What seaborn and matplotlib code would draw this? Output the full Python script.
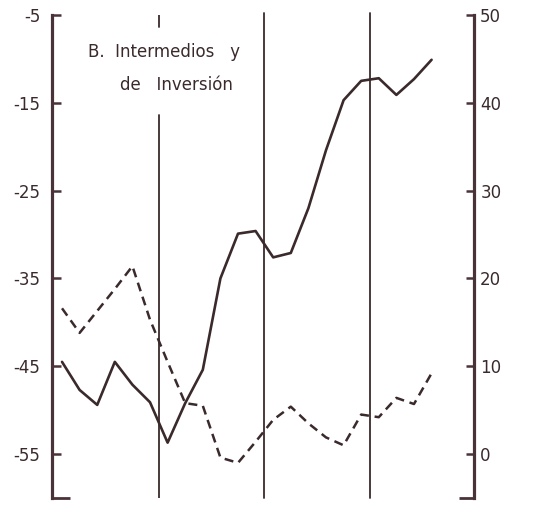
import numpy as np
import pandas as pd
import matplotlib
matplotlib.use("Agg")
import matplotlib.pyplot as plt
from matplotlib.ticker import FixedLocator
import seaborn as sns

# ---- data (bimonthly observations, 22 periods) ----
periods = list(range(22))
solid_vals = [-44.5, -47.7, -49.4, -44.5, -47.1, -49.1, -53.7, -49.2, -45.4, -35.0,
              -29.9, -29.6, -32.6, -32.1, -27.0, -20.4, -14.7, -12.5, -12.2, -14.1,
              -12.3, -10.1]
dashed_vals = [16.6, 13.8, 16.3, 18.8, 21.4, 15.3, 10.5, 5.8, 5.5, -0.4,
               -1.0, 1.4, 3.9, 5.4, 3.5, 1.9, 1.0, 4.5, 4.2, 6.4,
               5.7, 9.2]
year_breaks = [5.5, 11.5, 17.5]
left_ticks = [-5, -15, -25, -35, -45, -55]
right_ticks = [50, 40, 30, 20, 10, 0]
title_lines = ["B.  Intermedios   y", "de   Inversión"]

df = pd.DataFrame({"period": periods, "solid": solid_vals, "dashed": dashed_vals})

sns.set_style("white")
plt.rcParams["font.family"] = ["DejaVu Sans"]
plt.rcParams["axes.unicode_minus"] = False

ink = "#3a2a2c"
spine_c = "#4a3338"

fig = plt.figure(figsize=(5.45, 5.05), dpi=100)
ax = fig.add_axes([0.0954, 0.0139, 0.7743, 0.9564])
ax2 = ax.twinx()

sns.lineplot(data=df, x="period", y="solid", ax=ax, color=ink, linewidth=1.9)
sns.lineplot(data=df, x="period", y="dashed", ax=ax2, color=ink, linewidth=1.8,
             linestyle=(0, (3.6, 2.3)))

ax.set_xlim(-0.57, 23.41)
ax.set_ylim(-60, -5)
ax2.set_ylim(-5, 50)

# year separators
for k, xb in enumerate(year_breaks):
    if k == 0:
        ax.axvline(xb, ymin=0.0, ymax=0.793, color=ink, lw=1.3)
        ax.axvline(xb, ymin=0.975, ymax=1.0, color=ink, lw=1.3)
    else:
        ax.axvline(xb, ymin=0.0, ymax=1.004, color=ink, lw=1.3, clip_on=False)

for a in (ax, ax2):
    for s in ("top", "bottom"):
        a.spines[s].set_visible(False)
    a.set_xlabel("")
    a.set_ylabel("")
    a.set_xticks([])
ax.spines["right"].set_visible(False)
ax2.spines["left"].set_visible(False)
ax.spines["left"].set_linewidth(2.3)
ax.spines["left"].set_color(spine_c)
ax2.spines["right"].set_linewidth(2.3)
ax2.spines["right"].set_color(spine_c)

ax.set_yticks(left_ticks)
ax.set_yticklabels([str(t) for t in left_ticks])
ax.tick_params(axis="y", direction="in", length=6.5, width=1.8, color=spine_c,
               labelsize=12, labelcolor=ink, pad=8.5, left=True, right=False)
ax.yaxis.set_minor_locator(FixedLocator([-60]))
ax.tick_params(axis="y", which="minor", direction="in", length=13, width=2.0,
               color=spine_c, left=True)

ax2.set_yticks(right_ticks)
ax2.set_yticklabels([str(t) for t in right_ticks])
ax2.tick_params(axis="y", direction="in", length=5.5, width=1.8, color=spine_c,
                labelsize=12, labelcolor=ink, pad=4.5, right=True, left=False)
ax2.yaxis.set_minor_locator(FixedLocator([-5]))
ax2.tick_params(axis="y", which="minor", direction="in", length=11, width=2.0,
                color=spine_c, right=True)

ax.text(0.0853, 0.923, title_lines[0], transform=ax.transAxes, ha="left",
        va="center", fontsize=12, color=ink)
ax.text(0.161, 0.855, title_lines[1], transform=ax.transAxes, ha="left",
        va="center", fontsize=12, color=ink)

fig.savefig("out.png", dpi=100, facecolor="white")
